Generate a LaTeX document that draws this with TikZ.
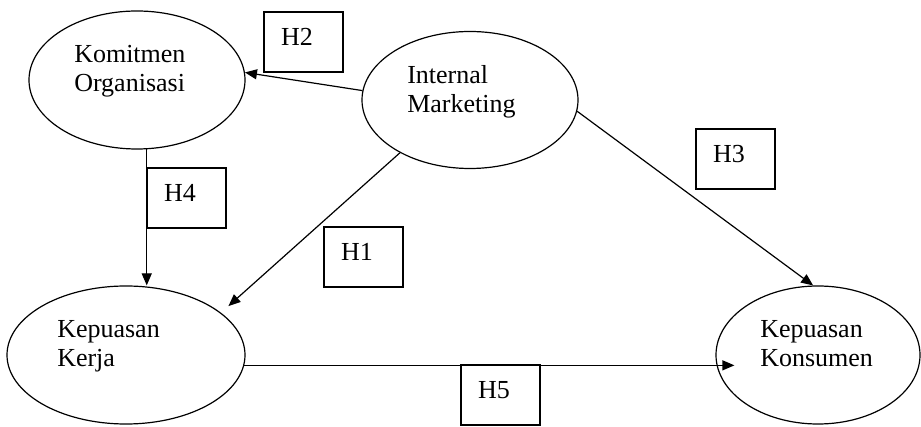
\documentclass[tikz,border=0pt]{standalone}
\usepackage{fontspec}
\setmainfont{Liberation Serif}
\usepackage{tikz}
\usetikzlibrary{shapes.geometric}
\usetikzlibrary{arrows.meta}
\pgfdeclarelayer{nodelayer}
\pgfdeclarelayer{edgelayer}
\pgfsetlayers{nodelayer,edgelayer,main}
\tikzset{
  construct/.style={ellipse, draw, line width=0.9pt, inner sep=0pt},
  vartext/.style={anchor=base west, align=left, inner sep=0pt, font=\fontsize{19.5}{22}\selectfont},
  hypo/.style={rectangle, draw, line width=0.9pt, minimum width=59.25pt, minimum height=45pt,
    text width=33.75pt, inner xsep=12.75pt, align=left, text depth=7pt, font=\fontsize{19.5}{22}\selectfont},
  arrowline/.style={line width=0.9pt, -{Triangle[length=9pt, width=7.5pt]}}
}

\begin{document}
\begin{tikzpicture}[x=0.75pt, y=-0.75pt]
  \useasboundingbox (0, 0) rectangle (921, 427);
  \begin{pgfonlayer}{nodelayer}
    \node [construct, minimum width=162pt, minimum height=103.5pt] (ko) at (137, 80) {};
    \node [construct, minimum width=162pt, minimum height=102.75pt] (im) at (470, 100) {};
    \node [construct, minimum width=178.5pt, minimum height=103.5pt] (kk) at (126, 355) {};
    \node [construct, minimum width=153pt, minimum height=103.5pt] (kn) at (818, 355) {};
    \node [vartext] (kotext) at (74, 92) {Komitmen\\Organisasi};
    \node [vartext] (imtext) at (407, 113) {Internal\\Marketing};
    \node [vartext] (kktext) at (57, 367) {Kepuasan\\Kerja};
    \node [vartext] (kntext) at (760, 367) {Kepuasan\\Konsumen};
    \node [hypo] (h2) at (303.5, 42) {H2};
    \node [hypo] (h4) at (186.5, 198) {H4};
    \node [hypo] (h1) at (363.5, 257) {H1};
    \node [hypo] (h3) at (735.5, 159) {H3};
    \node [hypo] (h5) at (500.5, 395) {H5};
  \end{pgfonlayer}
  \begin{pgfonlayer}{edgelayer}
    \draw [arrowline] (im.175) to (ko.4);
    \draw [arrowline] (ko.-82) to (ko.-82 |- kk.north);
    \draw [arrowline, shorten >=7.5pt] (im.217) to (kk.24);
    \draw [arrowline] (im.-6) to (kn.94);
    \draw [arrowline] (kk.-5) to ([xshift=14.25pt]kk.-5 -| kn.west);
  \end{pgfonlayer}
\end{tikzpicture}
\end{document}
